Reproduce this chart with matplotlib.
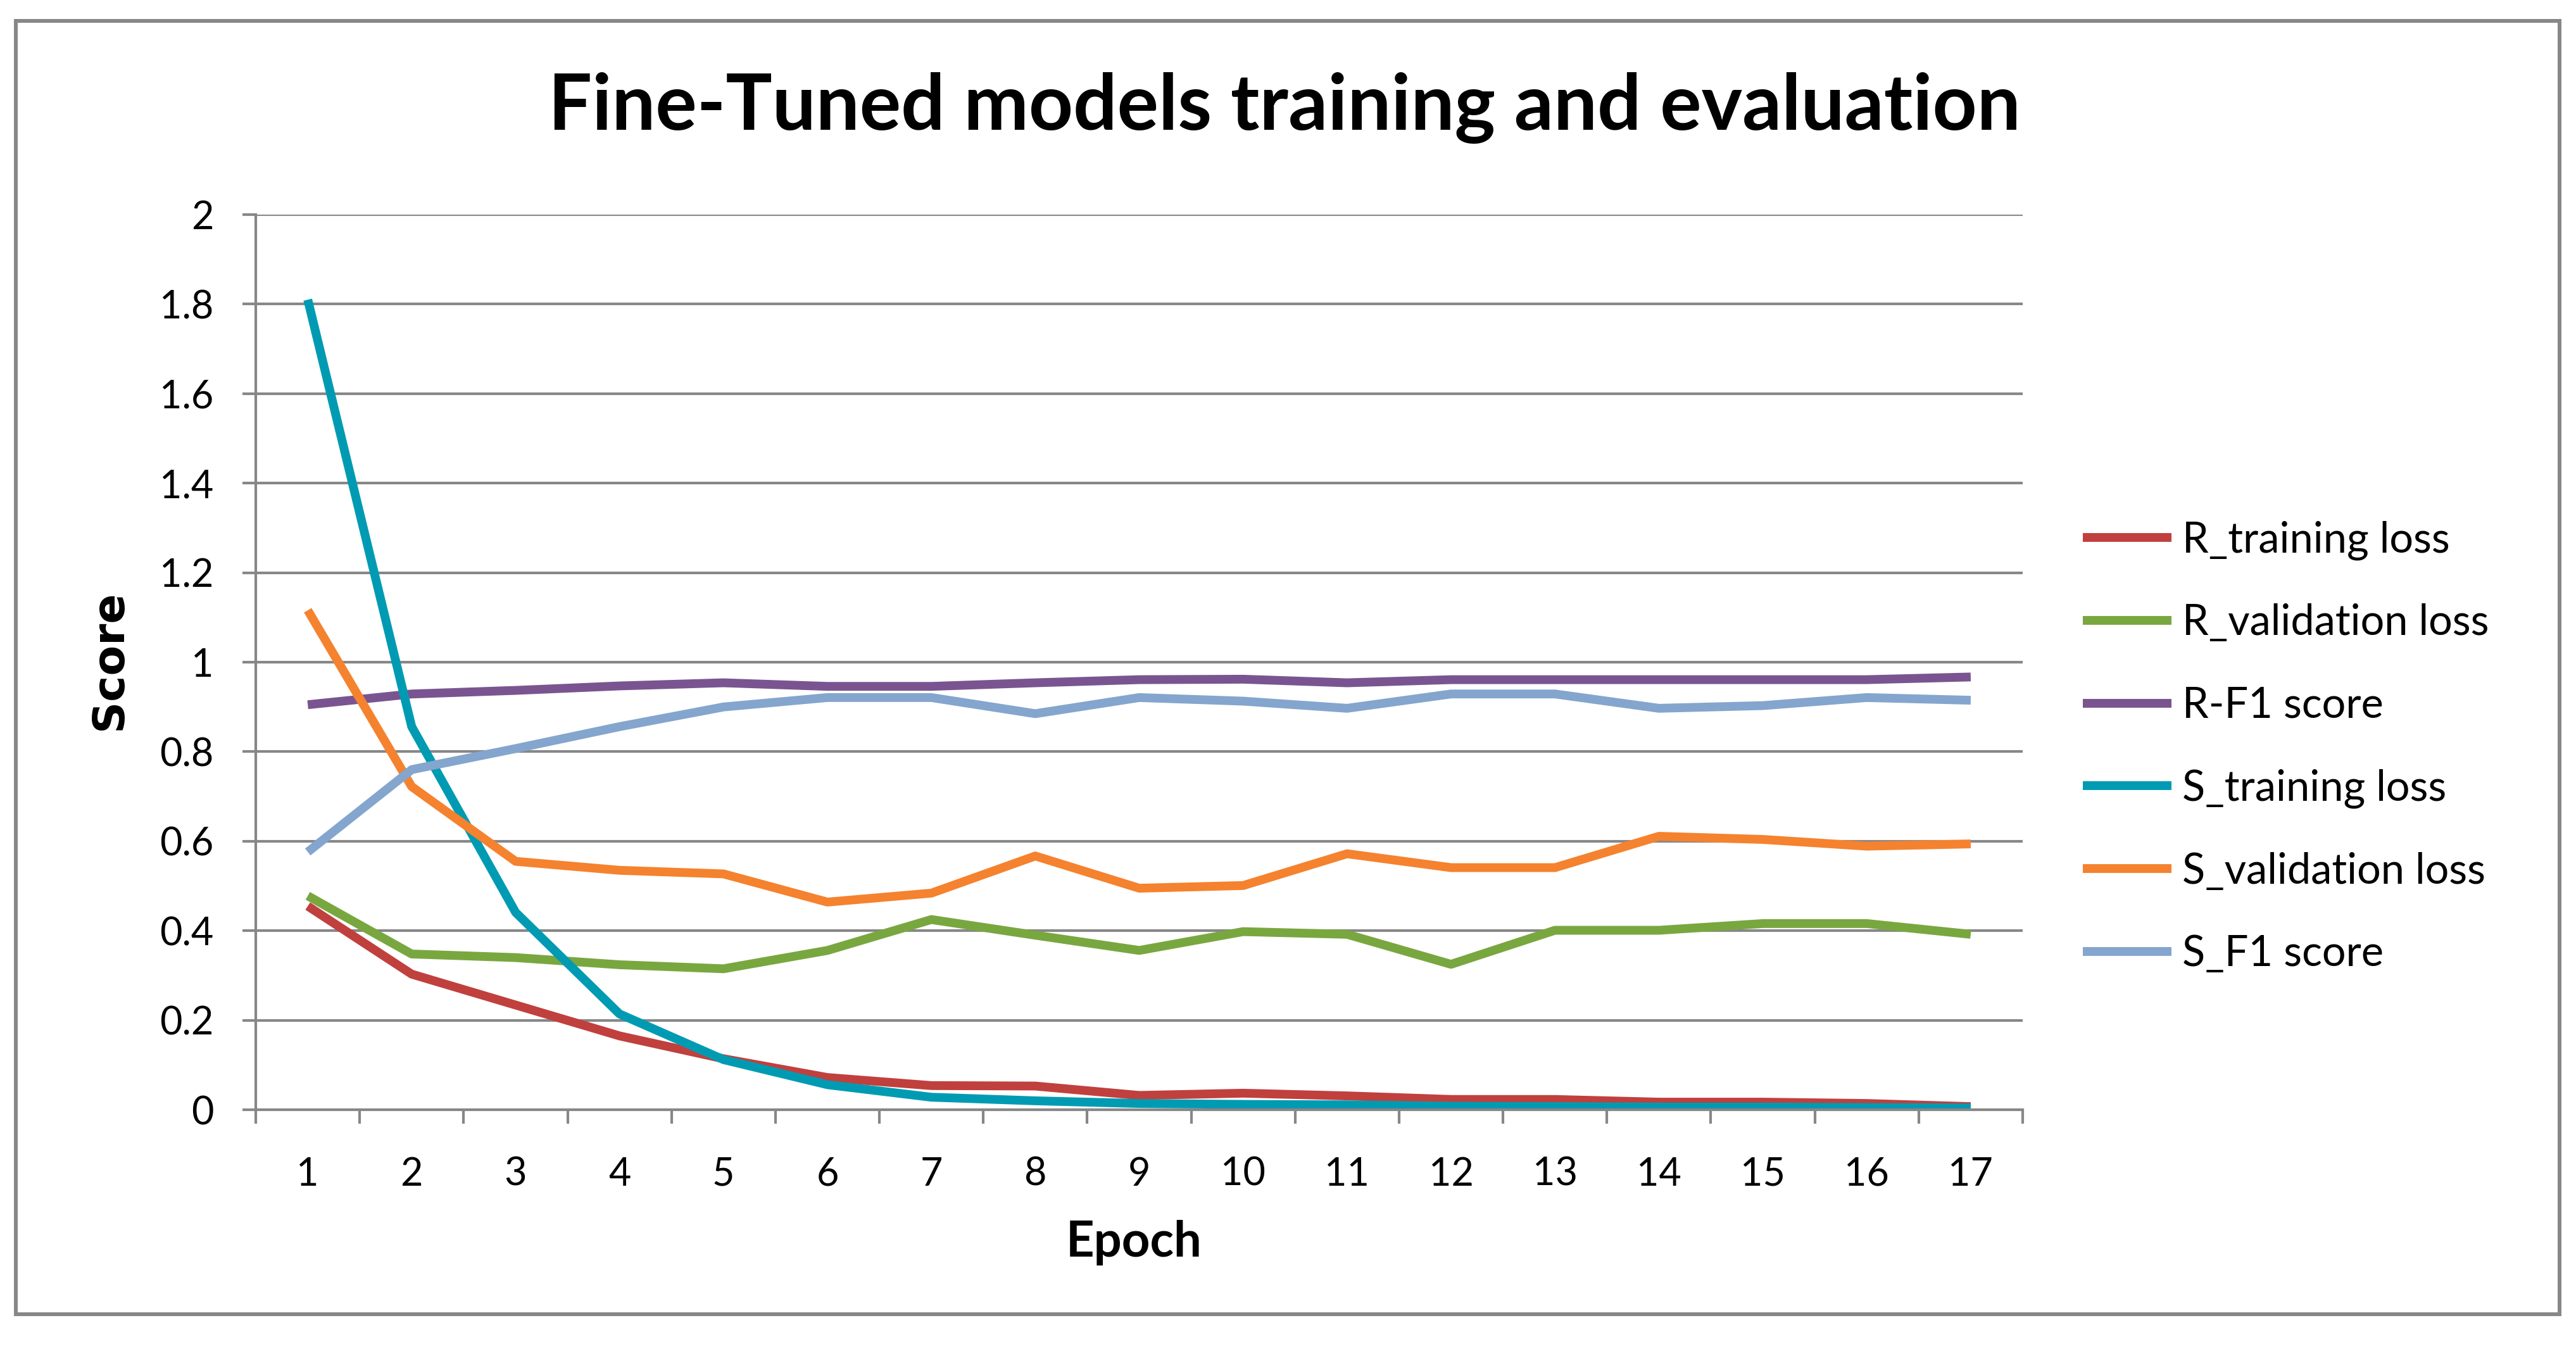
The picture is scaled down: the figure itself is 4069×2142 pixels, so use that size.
import numpy as np
import matplotlib
matplotlib.use("Agg")
import matplotlib.pyplot as plt
from matplotlib.patches import Rectangle

# Epochs and per-series values
epochs = list(range(1, 18))

r_train_loss = [0.455, 0.303, 0.234, 0.165, 0.114, 0.072, 0.054, 0.053, 0.032, 0.037,
                0.031, 0.023, 0.023, 0.017, 0.017, 0.014, 0.007]
r_val_loss = [0.478, 0.348, 0.34, 0.324, 0.315, 0.356, 0.425, 0.39, 0.356, 0.398,
              0.392, 0.325, 0.401, 0.401, 0.416, 0.416, 0.392]
r_f1 = [0.905, 0.929, 0.937, 0.947, 0.954, 0.946, 0.946, 0.954, 0.961, 0.962,
        0.954, 0.961, 0.961, 0.961, 0.961, 0.961, 0.967]
s_train_loss = [1.81, 0.856, 0.441, 0.214, 0.112, 0.056, 0.028, 0.02, 0.014, 0.012,
                0.011, 0.008, 0.007, 0.006, 0.006, 0.005, 0.004]
s_val_loss = [1.116, 0.722, 0.555, 0.535, 0.527, 0.464, 0.484, 0.567, 0.495, 0.501,
              0.572, 0.541, 0.541, 0.611, 0.604, 0.589, 0.594]
s_f1 = [0.576, 0.76, 0.807, 0.856, 0.9, 0.921, 0.921, 0.885, 0.921, 0.913,
        0.897, 0.929, 0.929, 0.897, 0.903, 0.921, 0.915]

series = [
    ("R_training loss", r_train_loss, "#C0403E"),
    ("R_validation loss", r_val_loss, "#79A73F"),
    ("R-F1 score", r_f1, "#7A5490"),
    ("S_training loss", s_train_loss, "#009BB2"),
    ("S_validation loss", s_val_loss, "#F5822E"),
    ("S_F1 score", s_f1, "#84A5CD"),
]

grid_grey = "#878787"
font = ["Lato", "DejaVu Sans"]
plt.rcParams["font.family"] = font

fig = plt.figure(figsize=(40.69, 21.42), dpi=100)
ax = fig.add_axes([0.0993, 0.1816, 0.6859, 0.6601])

for name, vals, col in series:
    ax.plot(epochs, vals, color=col, lw=10, label=name,
            solid_joinstyle="round", solid_capstyle="butt")

ax.set_xlim(0.5, 17.5)
ax.set_ylim(0, 2)
ax.set_yticks(np.arange(0, 2.01, 0.2))
ax.set_yticklabels(["0", "0.2", "0.4", "0.6", "0.8", "1", "1.2", "1.4", "1.6", "1.8", "2"])
ax.yaxis.grid(True, color=grid_grey, lw=3)
ax.set_axisbelow(True)

# category axis: ticks between categories, labels at the categories
ax.set_xticks(np.arange(0.5, 17.6, 1.0))
ax.set_xticklabels([])
ax.set_xticks(epochs, minor=True)
ax.set_xticklabels([str(e) for e in epochs], minor=True)
ax.tick_params(axis="x", which="major", length=16, width=3, color=grid_grey, direction="out")
ax.tick_params(axis="x", which="minor", length=0, pad=53, labelsize=44)
ax.tick_params(axis="y", length=15, width=3, color=grid_grey, pad=33, labelsize=44)

for side in ("top", "right"):
    ax.spines[side].set_visible(False)
for side in ("left", "bottom"):
    ax.spines[side].set_color(grid_grey)
    ax.spines[side].set_linewidth(3)

fig.text(0.4987, 0.9206, "Fine-Tuned models training and evaluation",
         ha="center", va="center", fontsize=88, fontweight="bold")
fig.text(0.0425, 0.513, "Score", rotation=90, ha="center", va="center",
         fontsize=50, fontweight="bold", family="DejaVu Sans")
fig.text(0.4402, 0.0835, "Epoch", ha="center", va="center",
         fontsize=56, fontweight="bold")

fig.legend(loc="center left", bbox_to_anchor=(0.8086, 0.449), frameon=False,
           fontsize=48, handlelength=2.1, handletextpad=0.25, labelspacing=1.03,
           borderaxespad=0, borderpad=0)

# chart-area border
fig.patches.append(Rectangle((0.0061, 0.0308), 0.9875, 0.9538, transform=fig.transFigure,
                             fill=False, edgecolor=grid_grey, lw=4.3))

fig.savefig("out.png", dpi=100, facecolor="white")
